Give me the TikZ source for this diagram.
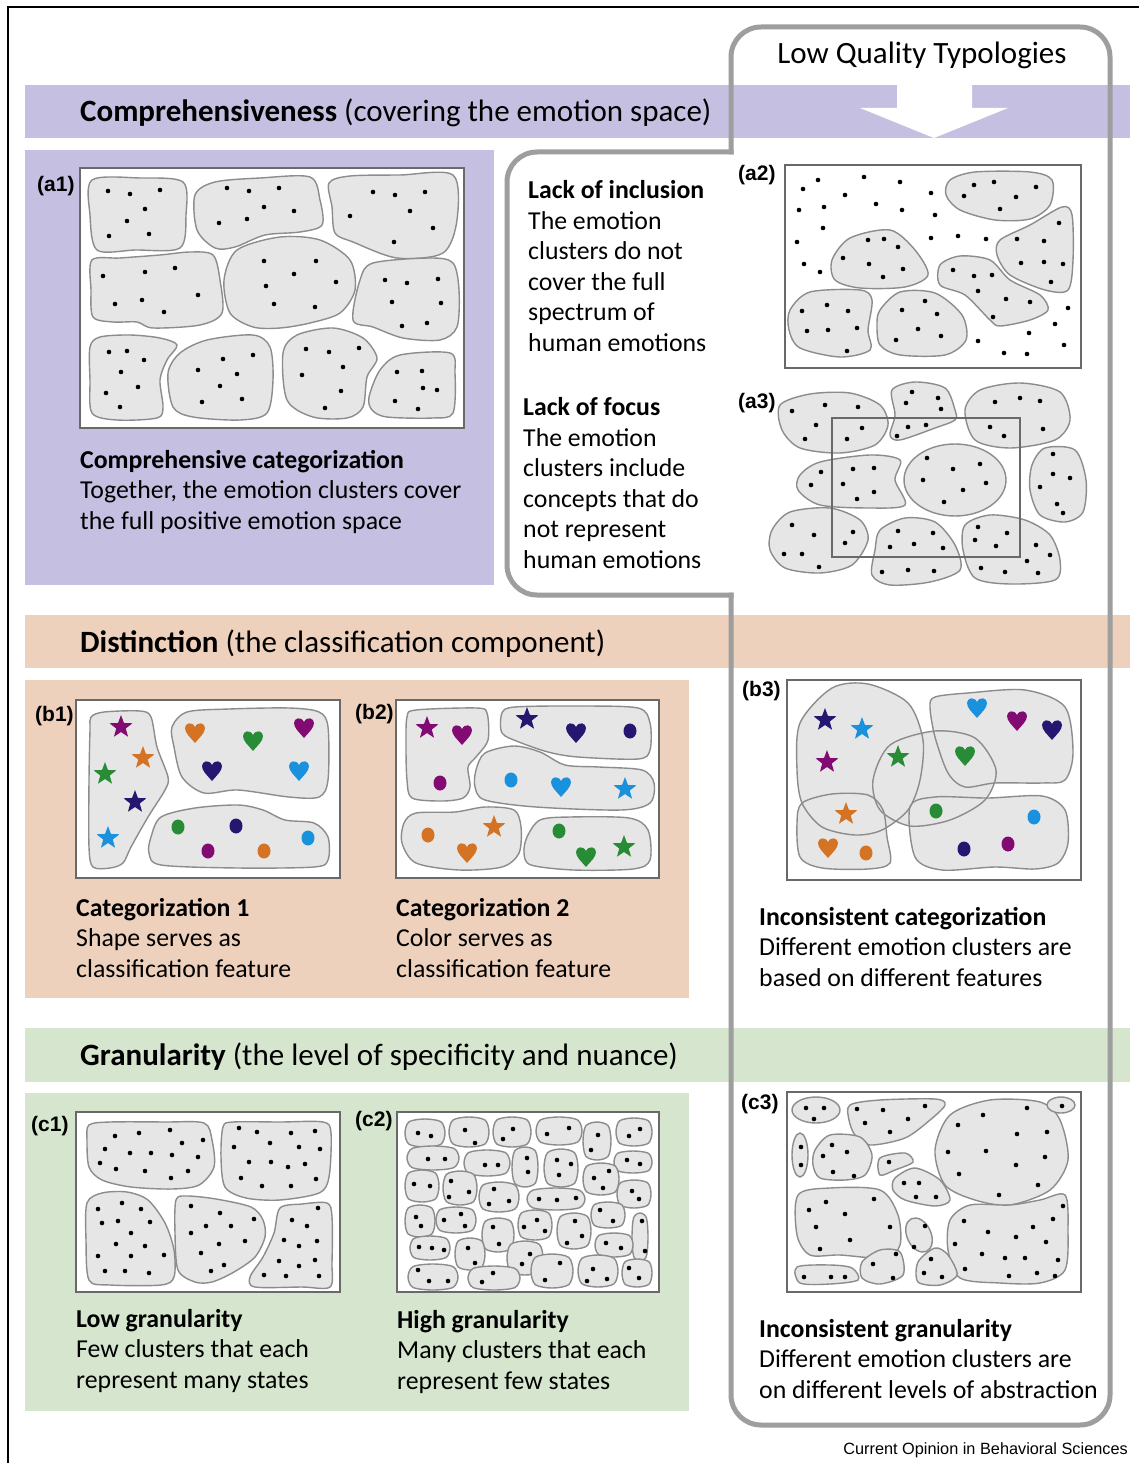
\documentclass[tikz,border=0pt]{standalone}
\usepackage{fontspec}
\setmainfont{Carlito}
\newfontfamily\lblfont{Liberation Sans}
\definecolor{bandpurple}{RGB}{197,192,225}
\definecolor{bandpeach}{RGB}{238,209,189}
\definecolor{bandgreen}{RGB}{214,229,206}
\definecolor{framegray}{RGB}{158,158,158}
\definecolor{boxline}{RGB}{105,105,105}
\definecolor{blobfill}{RGB}{230,230,230}
\definecolor{blobline}{RGB}{140,140,140}
\definecolor{cpurple}{RGB}{130,10,115}
\definecolor{corange}{RGB}{212,115,35}
\definecolor{cgreen}{RGB}{40,140,55}
\definecolor{cnavy}{RGB}{38,22,112}
\definecolor{cblue}{RGB}{25,145,220}
\newcommand\mydots[1]{\foreach \x/\y in {#1} \fill (\x,\y) circle (2.3);}
\tikzset{
 hrt/.pic={\fill[#1] (0,11) .. controls (-5,5) and (-10,1) .. (-10,-4) .. controls (-10,-9) and (-3,-11) .. (0,-5) .. controls (3,-11) and (10,-9) .. (10,-4) .. controls (10,1) and (5,5) .. (0,11) -- cycle;},
 str/.pic={\fill[#1] (270:12) -- (306:5) -- (342:12) -- (18:5) -- (54:12) -- (90:5) -- (126:12) -- (162:5) -- (198:12) -- (234:5) -- cycle;},
 crc/.pic={\fill[#1] (0,0) ellipse (6.5 and 7.5);},
}
\begin{document}
\begin{tikzpicture}[x=1pt,y=-1pt,
 blob/.style={fill=blobfill, draw=blobline, line width=1.4},
 blobfillonly/.style={fill=blobfill},
 blobedge/.style={draw=blobline, line width=1.4},
 panelbox/.style={fill=white, draw=boxline, line width=1.8},
 lqframe/.style={draw=framegray, line width=5, line cap=rect, rounded corners=30},
 lbl/.style={font=\lblfont\bfseries\fontsize{21}{24}\selectfont, anchor=west, inner sep=0},
 body/.style={font=\fontsize{25.8}{30.5}\selectfont, align=left, anchor=west, inner sep=0},
 bandtxt/.style={font=\fontsize{31}{36}\selectfont, anchor=west, inner sep=0}
]
\useasboundingbox (0,0) rectangle (1139,1463);
\fill[white] (0,0) rectangle (1139,1463);
\draw[black, line width=1.2] (8,1463) -- (8,7) -- (1139,7);

% bands and panels
\fill[bandpurple] (25,85) rectangle (1130,138);
\fill[white] (897,85) -- (972,85) -- (972,108) -- (1008,108) -- (934,138) -- (860,108) -- (897,108) -- cycle;
\fill[bandpurple] (25,150) rectangle (494,585);
\fill[bandpeach] (25,615) rectangle (1130,668);
\fill[bandpeach] (25,680) rectangle (689,998);
\fill[bandgreen] (25,1028) rectangle (1130,1082);
\fill[bandgreen] (25,1093) rectangle (689,1411);

% low quality frame
\draw[lqframe] (731,152) -- (731,27) -- (1110,27) -- (1110,1425) -- (731,1425) -- (731,595);
\draw[lqframe] (731,595) -- (507,595) -- (507,152) -- (731,152);
\node[font=\fontsize{31}{36}\selectfont, inner sep=0] (lq) at (922,55) {Low Quality Typologies};

% headings
\node[bandtxt] (h1) at (80,113) {\textbf{Comprehensiveness} (covering the emotion space)};
\node[bandtxt] (h2) at (80,644) {\textbf{Distinction} (the classification component)};
\node[bandtxt] (h3) at (80,1057) {\textbf{Granularity} (the level of specificity and nuance)};

% ---------- (a1)
\draw[panelbox] (80,168) rectangle (464,428);
\draw[blob] plot[smooth cycle] coordinates {(92,180)(140,178)(183,182)(186,215)(180,248)(135,250)(97,250)(90,215)};
\draw[blob] plot[smooth cycle] coordinates {(195,195)(215,182)(260,178)(310,177)(320,200)(322,225)(300,232)(265,235)(235,247)(215,248)(197,230)};
\draw[blob] plot[smooth cycle] coordinates {(329,183)(350,176)(400,175)(453,175)(457,220)(443,253)(397,258)(353,242)(335,233)(332,207)};
\draw[blob] plot[smooth cycle] coordinates {(92,260)(120,258)(160,255)(190,252)(213,255)(220,280)(222,313)(200,325)(153,328)(137,322)(113,322)(93,317)(91,290)};
\draw[blob] plot[smooth cycle] coordinates {(224,280)(237,250)(280,237)(320,240)(350,260)(355,290)(340,313)(310,323)(280,328)(253,327)(230,313)};
\draw[blob] plot[smooth cycle] coordinates {(353,320)(360,280)(373,263)(430,258)(453,263)(459,290)(457,327)(440,340)(403,338)(373,327)};
\draw[blob] plot[smooth cycle] coordinates {(90,347)(100,337)(130,335)(160,338)(177,345)(167,360)(160,380)(163,407)(157,418)(117,420)(92,413)(90,380)};
\draw[blob] plot[smooth cycle] coordinates {(168,373)(180,353)(207,340)(253,335)(270,347)(273,380)(267,413)(240,420)(193,417)(173,407)};
\draw[blob] plot[smooth cycle] coordinates {(283,353)(297,335)(333,328)(363,338)(377,358)(367,377)(363,407)(347,418)(313,417)(287,400)};
\draw[blob] plot[smooth cycle] coordinates {(369,397)(380,370)(400,355)(450,353)(455,373)(453,413)(433,418)(387,417)(372,410)};
\mydots{108/191,130/194,160/190,145/209,127/221,109/236,149/234,
227/188,249/191,279/188,264/207,294/211,247/219,219/223,
373/192,395/195,425/192,410/211,350/216,433/228,394/242,
103/276,145/272,175/268,198/295,115/304,142/300,164/312,
264/261,316/261,294/274,266/286,336/282,274/304,315/307,
385/280,407/283,438/279,392/302,441/303,402/326,427/323,
109/352,127/351,144/360,121/372,106/393,138/387,120/407,
223/359,253/355,198/370,237/374,220/386,202/402,242/399,
306/349,329/352,359/348,343/367,302/375,341/391,325/408,
397/372,422/371,423/388,437/390,395/401,418/409}
\node[lbl] (la1) at (37,186) {(a1)};
\node[body] (ta1) at (80,492) {\textbf{Comprehensive categorization}\\Together, the emotion clusters cover\\the full positive emotion space};

% ---------- (a2)
\draw[panelbox] (785,165) rectangle (1081,368);
\draw[blob] plot[smooth cycle] coordinates {(950,180)(975,172)(1030,172)(1052,180)(1050,205)(1030,219)(995,220)(960,210)(946,195)};
\draw[blob] plot[smooth cycle] coordinates {(1000,240)(1030,225)(1062,207)(1072,215)(1073,260)(1068,290)(1045,290)(1010,275)(997,255)};
\draw[blob] plot[smooth cycle] coordinates {(832,260)(850,238)(890,230)(915,250)(928,275)(905,287)(860,288)(835,280)};
\draw[blob] plot[smooth cycle] coordinates {(940,265)(960,256)(990,260)(1010,280)(1040,295)(1048,310)(1030,320)(1000,326)(990,320)(965,295)(940,285)};
\draw[blob] plot[smooth cycle] coordinates {(790,310)(810,292)(860,290)(872,300)(868,330)(870,350)(840,357)(800,348)(789,330)};
\draw[blob] plot[smooth cycle] coordinates {(880,310)(900,292)(935,293)(962,315)(966,340)(945,355)(900,355)(880,345)(877,325)};
\mydots{974/185,994/182,1036/187,964/196,1016/197,1000/209,
1059/223,1017/239,1044/241,1021/263,1044/262,1063/264,1051/282,
868/240,884/239,898/247,843/258,869/264,903/269,883/277,
953/270,974/276,992/275,978/291,1006/299,1030/302,993/317,
827/305,802/311,848/311,807/331,828/330,857/328,847/351,
925/301,902/310,937/314,918/329,896/340,941/336,
818/180,864/177,900/182,803/189,845/195,931/193,799/210,824/207,876/204,902/210,935/215,823/228,797/242,931/238,958/236,986/239,804/264,820/272,1068/308,1055/324,1029/333,978/341,1064/345,1004/353,1027/354}
\node[lbl] (la2) at (738,175) {(a2)};
\node[body] (ta2) at (528,266) {\textbf{Lack of inclusion}\\The emotion\\clusters do not\\cover the full\\spectrum of\\human emotions};

% ---------- (a3)
\draw[blob] plot[smooth cycle] coordinates {(780,405)(810,394)(850,393)(880,405)(888,425)(875,445)(840,453)(800,448)(782,430)};
\draw[blob] plot[smooth cycle] coordinates {(892,390)(915,382)(945,388)(955,410)(955,420)(935,428)(900,440)(890,435)(895,415)};
\draw[blob] plot[smooth cycle] coordinates {(965,410)(980,390)(1020,383)(1060,392)(1070,420)(1055,440)(1010,448)(975,440)};
\draw[blob] plot[smooth cycle] coordinates {(800,475)(820,462)(870,455)(900,460)(895,480)(905,505)(870,508)(820,505)(798,490)};
\draw[blob] (955,480) ellipse (51 and 36);
\draw[blob] plot[smooth cycle] coordinates {(1032,465)(1045,448)(1075,450)(1086,480)(1083,512)(1065,522)(1040,515)(1030,490)};
\draw[blob] plot[smooth cycle] coordinates {(772,530)(790,512)(830,508)(860,520)(868,540)(852,565)(820,573)(785,568)(770,550)};
\draw[blob] plot[smooth cycle] coordinates {(880,530)(905,518)(935,522)(955,545)(960,570)(930,582)(890,585)(872,575)(875,550)};
\draw[blob] plot[smooth cycle] coordinates {(965,525)(990,515)(1025,520)(1050,535)(1060,560)(1055,580)(1010,584)(975,578)(963,550)};
\mydots{792/411,825/405,858/407,816/425,862/428,805/439,847/439,
912/392,906/403,938/398,941/409,908/427,926/425,897/436,
995/402,1020/398,1040/401,990/427,1004/436,1043/429,
821/472,853/469,874/468,811/485,843/484,874/492,857/499,
927/458,953/469,980/464,923/480,986/483,963/490,944/502,
1053/454,1053/474,1070/478,1040/487,1057/504,1063/513,
792/525,814/535,853/532,845/543,784/554,802/554,819/567,
898/531,933/533,890/547,914/544,943/548,882/572,908/570,934/571,
978/527,1007/533,975/540,996/546,1036/545,1050/555,1027/561,981/568,1005/572,1038/573}
\draw[draw=boxline, line width=1.8] (832,418) rectangle (1020,557);
\node[lbl] (la3) at (738,403) {(a3)};
\node[body] (ta3) at (523,483) {\textbf{Lack of focus}\\The emotion\\clusters include\\concepts that do\\not represent\\human emotions};

% ---------- (b1)
\draw[panelbox] (76,700) rectangle (340,878);
\draw[blob] plot[smooth cycle] coordinates {(91,717)(104,712)(140,711)(151,717)(157,747)(168,777)(165,790)(148,817)(131,847)(123,863)(110,868)(93,867)(89,847)(89,780)(90,730)};
\draw[blob] plot[smooth cycle] coordinates {(172,727)(187,712)(229,709)(289,708)(319,712)(328,727)(328,780)(319,797)(289,797)(238,790)(204,793)(182,777)(174,747)};
\draw[blob] plot[smooth cycle] coordinates {(151,837)(161,817)(195,808)(238,805)(263,810)(285,820)(314,823)(328,837)(328,860)(314,867)(238,868)(161,865)(149,853)};
\foreach \x/\y/\c in {121/727/cpurple,143/758/corange,105/774/cgreen,135/802/cnavy,108/838/cblue} \pic at (\x,\y) {str=\c};
\foreach \x/\y/\c in {195/732/corange,253/740/cgreen,304/727/cpurple,212/770/cnavy,299/770/cblue} \pic at (\x,\y) {hrt=\c};
\foreach \x/\y/\c in {178/827/cgreen,236/826/cnavy,308/838/cblue,208/851/cpurple,264/851/corange} \pic at (\x,\y) {crc=\c};
\node[lbl] (lb1) at (35,716) {(b1)};
\node[body] (tb1) at (76,938) {\textbf{Categorization 1}\\Shape serves as\\classification feature};

% ---------- (b2)
\draw[panelbox] (396,700) rectangle (659,878);
\draw[blob] plot[smooth cycle] coordinates {(407,717)(416,710)(476,708)(487,713)(488,740)(476,757)(468,767)(470,787)(463,798)(442,801)(412,798)(407,780)(406,747)};
\draw[blob] plot[smooth cycle] coordinates {(502,713)(515,707)(578,706)(638,708)(650,723)(650,750)(638,759)(578,757)(548,752)(519,742)(502,733)};
\draw[blob] plot[smooth cycle] coordinates {(476,770)(485,753)(514,746)(540,752)(565,765)(599,767)(642,770)(654,783)(650,803)(621,810)(536,807)(485,800)(475,787)};
\draw[blob] plot[smooth cycle] coordinates {(404,823)(416,813)(455,812)(485,807)(514,810)(521,827)(519,853)(502,867)(459,870)(416,863)(402,843)};
\draw[blob] plot[smooth cycle] coordinates {(527,837)(540,820)(570,817)(629,818)(648,830)(650,860)(633,869)(574,870)(531,865)(524,853)};
\foreach \x/\y/\c in {427/728/cpurple,527/719/cnavy,625/789/cblue,494/827/corange,624/847/cgreen} \pic at (\x,\y) {str=\c};
\foreach \x/\y/\c in {462/734/cpurple,576/732/cnavy,561/786/cblue,467/852/corange,586/856/cgreen} \pic at (\x,\y) {hrt=\c};
\foreach \x/\y/\c in {440/783/cpurple,630/731/cnavy,511/780/cblue,428/835/corange,559/831/cgreen} \pic at (\x,\y) {crc=\c};
\node[lbl] (lb2) at (355,714) {(b2)};
\node[body] (tb2) at (396,938) {\textbf{Categorization 2}\\Color serves as\\classification feature};

% ---------- (b3)
\draw[panelbox] (787,680) rectangle (1081,880);
\fill[blobfillonly] plot[smooth cycle] coordinates {(832,688)(868,684)(908,703)(923,740)(920,780)(908,810)(882,830)(855,835)(822,827)(802,803)(797,770)(800,723)};
\fill[blobfillonly] plot[smooth cycle] coordinates {(935,697)(968,693)(1025,690)(1065,707)(1073,753)(1065,780)(1042,783)(995,783)(965,787)(948,773)(935,737)(930,707)};
\fill[blobfillonly] plot[smooth cycle] coordinates {(873,780)(890,745)(935,731)(975,738)(996,770)(985,800)(950,820)(910,826)(880,810)};
\fill[blobfillonly] plot[smooth cycle] coordinates {(802,803)(832,794)(868,795)(883,810)(887,837)(890,863)(868,869)(822,868)(800,857)(797,823)};
\fill[blobfillonly] plot[smooth cycle] coordinates {(910,807)(935,797)(988,798)(1042,796)(1065,810)(1068,843)(1058,863)(1035,869)(995,867)(942,870)(915,857)};
\draw[blobedge] plot[smooth cycle] coordinates {(832,688)(868,684)(908,703)(923,740)(920,780)(908,810)(882,830)(855,835)(822,827)(802,803)(797,770)(800,723)};
\draw[blobedge] plot[smooth cycle] coordinates {(935,697)(968,693)(1025,690)(1065,707)(1073,753)(1065,780)(1042,783)(995,783)(965,787)(948,773)(935,737)(930,707)};
\draw[blobedge] plot[smooth cycle] coordinates {(873,780)(890,745)(935,731)(975,738)(996,770)(985,800)(950,820)(910,826)(880,810)};
\draw[blobedge] plot[smooth cycle] coordinates {(802,803)(832,794)(868,795)(883,810)(887,837)(890,863)(868,869)(822,868)(800,857)(797,823)};
\draw[blobedge] plot[smooth cycle] coordinates {(910,807)(935,797)(988,798)(1042,796)(1065,810)(1068,843)(1058,863)(1035,869)(995,867)(942,870)(915,857)};
\foreach \x/\y/\c in {825/720/cnavy,862/729/cblue,827/762/cpurple,898/757/cgreen,846/814/corange} \pic at (\x,\y) {str=\c};
\foreach \x/\y/\c in {828/847/corange,977/707/cblue,1017/720/cpurple,1052/729/cnavy,965/755/cgreen} \pic at (\x,\y) {hrt=\c};
\foreach \x/\y/\c in {866/853/corange,936/811/cgreen,1034/817/cblue,964/849/cnavy,1008/844/cpurple} \pic at (\x,\y) {crc=\c};
\node[lbl] (lb3) at (742,691) {(b3)};
\node[body] (tb3) at (759,947) {\textbf{Inconsistent categorization}\\Different emotion clusters are\\based on different features};

% ---------- (c1)
\draw[panelbox] (76,1112) rectangle (340,1292);
\draw[blob] plot[smooth cycle] coordinates {(89,1125)(110,1122)(165,1122)(204,1123)(212,1140)(214,1167)(199,1185)(172,1189)(131,1187)(102,1180)(89,1167)(87,1140)};
\draw[blob] plot[smooth cycle] coordinates {(223,1127)(233,1122)(280,1122)(323,1122)(331,1133)(329,1177)(319,1193)(280,1200)(246,1198)(225,1187)(221,1157)};
\draw[blob] plot[smooth cycle] coordinates {(87,1203)(102,1193)(127,1192)(148,1200)(165,1223)(174,1250)(174,1277)(161,1285)(110,1285)(89,1280)(86,1240)};
\draw[blob] plot[smooth cycle] coordinates {(176,1200)(187,1196)(216,1199)(251,1207)(263,1220)(265,1237)(255,1257)(234,1272)(212,1282)(195,1282)(178,1270)(175,1233)};
\draw[blob] plot[smooth cycle] coordinates {(280,1208)(302,1204)(327,1203)(332,1217)(332,1263)(330,1287)(302,1287)(255,1287)(250,1277)(263,1257)(274,1233)};
\mydots{115/1136,139/1133,170/1130,182/1143,203/1140,105/1149,130/1153,151/1153,172/1155,198/1157,100/1163,116/1169,145/1171,171/1178,188/1171,
239/1128,257/1132,291/1133,315/1131,234/1147,270/1143,299/1147,320/1149,249/1162,271/1162,288/1167,305/1164,241/1178,262/1186,291/1186,316/1179,
122/1203,98/1209,141/1209,118/1221,102/1223,150/1222,131/1233,116/1244,145/1246,98/1256,131/1256,164/1255,105/1271,125/1271,149/1273,
191/1206,220/1213,254/1219,206/1226,231/1226,191/1233,245/1241,219/1244,201/1253,224/1265,211/1271,
318/1208,292/1220,307/1226,284/1240,299/1246,317/1241,279/1261,299/1266,315/1260,264/1275,286/1276,319/1276}
\node[lbl] (lc1) at (31,1126) {(c1)};
\node[body] (tc1) at (76,1351) {\textbf{Low granularity}\\Few clusters that each\\represent many states};

% ---------- (c2)
\draw[panelbox] (397,1112) rectangle (659,1292);
\foreach \cx/\cy/\rx/\ry in {425/1133/20/14,469/1132/20/15,512/1132/19/15,559/1131/23/14,597/1141/14/19,634/1132/18/14,
433/1158/26/12,487/1163/23/13,525/1167/13/20,561/1168/17/19,633/1162/19/11,
422/1186/17/16,460/1188/17/17,499/1197/20/15,556/1199/29/11,601/1179/18/16,634/1194/17/14,
420/1221/15/16,456/1220/20/13,498/1235/16/17,535/1225/17/15,574/1231/17/18,608/1215/17/13,640/1237/8/24,
430/1248/20/12,470/1254/15/16,525/1258/18/17,614/1245/19/12,
433/1277/25/13,494/1278/26/12,552/1271/21/17,598/1271/20/16,637/1273/15/14}
  \draw[blob] plot[smooth cycle] coordinates {({\cx+\rx},{\cy}) ({\cx+0.8*\rx},{\cy+0.8*\ry}) ({\cx},{\cy+\ry}) ({\cx-0.8*\rx},{\cy+0.8*\ry}) ({\cx-\rx},{\cy}) ({\cx-0.8*\rx},{\cy-0.8*\ry}) ({\cx},{\cy-\ry}) ({\cx+0.8*\rx},{\cy-0.8*\ry})};
\mydots{418/1133,431/1136,465/1130,475/1143,513/1129,503/1139,547/1134,569/1128,598/1135,591/1150,640/1129,629/1136,
428/1159,445/1159,485/1165,498/1165,527/1158,528/1172,557/1160,571/1164,559/1175,627/1160,640/1164,
414/1184,430/1186,451/1181,469/1192,449/1197,494/1189,509/1201,489/1204,539/1199,557/1200,576/1198,594/1178,609/1171,603/1188,632/1191,639/1199,
416/1217,421/1226,444/1220,461/1214,465/1226,493/1227,499/1244,524/1227,537/1220,545/1231,575/1221,582/1236,567/1243,600/1210,613/1221,642/1221,645/1251,
419/1247,432/1248,444/1250,468/1248,475/1263,530/1254,522/1264,606/1243,621/1248,
418/1270,429/1281,448/1281,493/1273,482/1282,560/1263,545/1280,593/1269,607/1279,587/1281,629/1268,639/1278}
\node[lbl] (lc2) at (355,1121) {(c2)};
\node[body] (tc2) at (397,1352) {\textbf{High granularity}\\Many clusters that each\\represent few states};

% ---------- (c3)
\draw[panelbox] (787,1092) rectangle (1081,1292);
\draw[blob] (816,1110) ellipse (24 and 13);
\draw[blob] plot[smooth cycle] coordinates {(850,1105)(880,1100)(935,1099)(945,1105)(930,1120)(905,1138)(870,1145)(855,1135)(849,1120)};
\draw[blob] plot[smooth cycle] coordinates {(935,1150)(950,1115)(990,1100)(1040,1102)(1060,1120)(1068,1160)(1050,1190)(1010,1205)(975,1200)(945,1185)};
\draw[blob] (1061,1105) ellipse (14 and 8);
\draw[blob] (800,1155) ellipse (8 and 22);
\draw[blob] plot[smooth cycle] coordinates {(815,1150)(830,1135)(860,1137)(872,1155)(865,1175)(845,1180)(820,1178)(813,1165)};
\draw[blob] plot[smooth cycle] coordinates {(880,1158)(905,1153)(913,1162)(895,1170)(880,1175)};
\draw[blob] plot[smooth cycle] coordinates {(895,1178)(915,1168)(940,1180)(950,1200)(935,1206)(905,1200)(893,1190)};
\draw[blob] plot[smooth cycle] coordinates {(798,1195)(830,1188)(880,1190)(898,1215)(900,1245)(885,1258)(840,1255)(810,1255)(797,1235)};
\draw[blob, rotate around={25:(919,1235)}] (919,1235) ellipse (12 and 18);
\draw[blob] plot[smooth cycle] coordinates {(950,1220)(970,1205)(1010,1205)(1040,1200)(1065,1195)(1068,1230)(1065,1270)(1040,1283)(1000,1283)(960,1278)(948,1250)};
\draw[blob] plot[smooth cycle] coordinates {(797,1267)(830,1265)(852,1268)(858,1280)(830,1284)(800,1283)};
\draw[blob] plot[smooth cycle] coordinates {(862,1262)(880,1250)(900,1252)(903,1275)(880,1284)(862,1278)};
\draw[blob] plot[smooth cycle] coordinates {(918,1262)(935,1248)(948,1255)(957,1275)(940,1285)(918,1282)};
\mydots{806/1108,824/1108,814/1119,
857/1109,883/1110,925/1106,865/1123,908/1119,890/1132,
983/1115,1027/1108,958/1125,1017/1134,1047/1132,948/1152,986/1151,1045/1157,1016/1165,959/1174,1038/1185,999/1195,
1062/1106,801/1147,801/1165,
832/1145,823/1156,847/1152,833/1172,854/1176,889/1162,
904/1183,919/1183,916/1197,936/1197,
826/1202,874/1199,809/1210,845/1214,816/1227,890/1227,850/1240,820/1249,
925/1226,914/1247,
1063/1206,964/1221,1053/1219,988/1232,1033/1227,1016/1237,1046/1242,955/1244,982/1254,1005/1258,1025/1258,1058/1260,965/1269,1009/1276,1037/1273,1055/1276,
804/1277,831/1277,845/1277,873/1264,896/1254,893/1278,931/1259,924/1273,942/1277}
\node[lbl] (lc3) at (741,1104) {(c3)};
\node[body] (tc3) at (759,1359) {\textbf{Inconsistent granularity}\\Different emotion clusters are\\on different levels of abstraction};

% footer
\node[font=\lblfont\fontsize{16.3}{19}\selectfont, anchor=east, inner sep=0] (src) at (1128,1450) {Current Opinion in Behavioral Sciences};
\end{tikzpicture}
\end{document}
